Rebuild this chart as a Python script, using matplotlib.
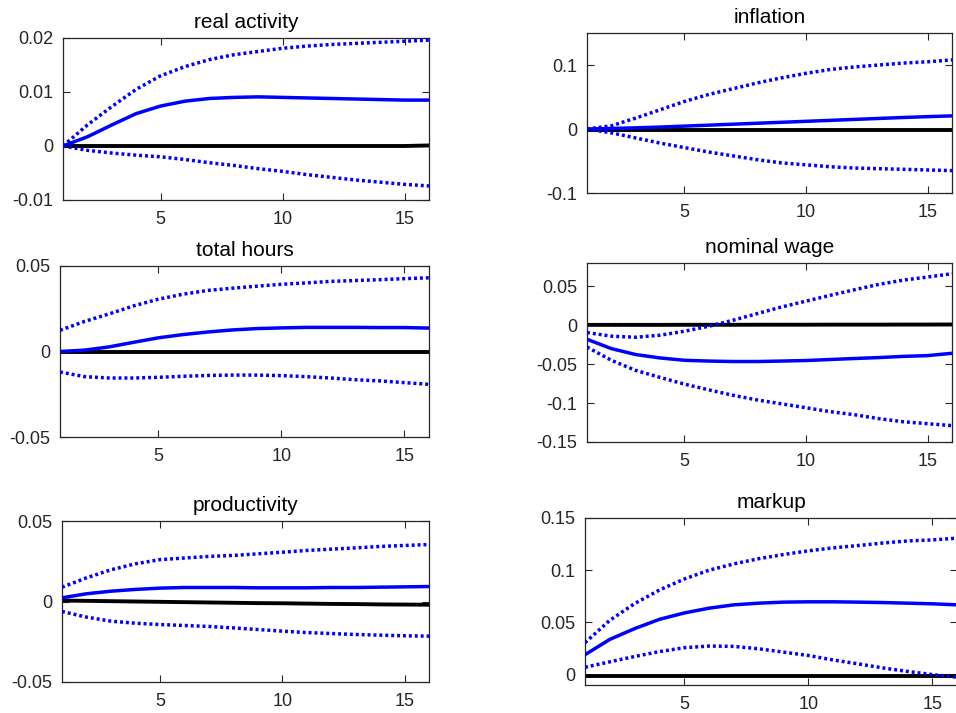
import numpy as np
import matplotlib
matplotlib.use("Agg")
import matplotlib.pyplot as plt

plt.rcParams['font.family'] = ['Liberation Sans', 'DejaVu Sans']

horizon = list(range(1, 17))

titles = ["real activity", "inflation", "total hours", "nominal wage", "productivity", "markup"]

# real activity
ra_mid = [0, 0.0017, 0.0039, 0.006, 0.0074, 0.0083, 0.0088, 0.009, 0.0091, 0.009, 0.0089, 0.0088, 0.0087, 0.0086, 0.0085, 0.0085]
ra_up = [0, 0.0039, 0.0073, 0.0105, 0.013, 0.0147, 0.016, 0.0169, 0.0175, 0.0181, 0.0185, 0.0188, 0.019, 0.0192, 0.0194, 0.0196]
ra_lo = [0, -0.0008, -0.0013, -0.0017, -0.002, -0.0025, -0.0031, -0.0036, -0.0042, -0.0047, -0.0053, -0.0058, -0.0063, -0.0067, -0.0071, -0.0074]
ra_ref = [0, 0, 0, 0, 0, 0, 0, 0, 0, 0, 0, 0, 0, 0, 0, 0.0001]

# inflation
inf_mid = [0, 0.0008, 0.0018, 0.003, 0.0045, 0.006, 0.0075, 0.009, 0.0105, 0.012, 0.0135, 0.015, 0.0165, 0.018, 0.0193, 0.0205]
inf_up = [0, 0.005, 0.017, 0.03, 0.043, 0.054, 0.063, 0.072, 0.08, 0.087, 0.093, 0.097, 0.1, 0.103, 0.105, 0.108]
inf_lo = [0, -0.006, -0.014, -0.022, -0.029, -0.036, -0.042, -0.048, -0.053, -0.056, -0.059, -0.061, -0.062, -0.063, -0.064, -0.065]
inf_ref = [-0.001] * 16

# total hours
th_mid = [0, 0.0008, 0.0027, 0.0054, 0.008, 0.0099, 0.0114, 0.0126, 0.0134, 0.0138, 0.0141, 0.0141, 0.0141, 0.014, 0.014, 0.0137]
th_up = [0.0124, 0.0176, 0.022, 0.0267, 0.0306, 0.0335, 0.0357, 0.037, 0.0382, 0.0393, 0.0401, 0.041, 0.0415, 0.042, 0.0426, 0.0431]
th_lo = [-0.012, -0.0147, -0.0155, -0.0155, -0.0151, -0.0145, -0.014, -0.0138, -0.0138, -0.0141, -0.0147, -0.0155, -0.0165, -0.0172, -0.0182, -0.0192]
th_ref = [0] * 16

# nominal wage
nw_mid = [-0.018, -0.030, -0.0376, -0.042, -0.045, -0.046, -0.0466, -0.0466, -0.046, -0.0453, -0.044, -0.0427, -0.0415, -0.040, -0.039, -0.036]
nw_up = [-0.0094, -0.014, -0.0154, -0.0128, -0.0077, -0.0013, 0.0064, 0.015, 0.0235, 0.031, 0.0385, 0.0457, 0.0526, 0.058, 0.062, 0.0662]
nw_lo = [-0.028, -0.045, -0.058, -0.067, -0.0756, -0.083, -0.090, -0.096, -0.101, -0.106, -0.111, -0.115, -0.120, -0.124, -0.1265, -0.129]
nw_ref = [0.0005, 0.0005, 0.0005, 0.0005, 0.0006, 0.0006, 0.0006, 0.0007, 0.0007, 0.0007, 0.0008, 0.0008, 0.0008, 0.0009, 0.0009, 0.001]

# productivity
pr_mid = [0.0023, 0.0048, 0.0064, 0.0075, 0.0083, 0.0087, 0.0087, 0.0087, 0.0085, 0.0085, 0.0085, 0.0087, 0.0087, 0.0089, 0.0091, 0.0093]
pr_up = [0.0089, 0.0147, 0.0197, 0.0234, 0.026, 0.027, 0.028, 0.0286, 0.0296, 0.0306, 0.0317, 0.0325, 0.0333, 0.0342, 0.0348, 0.0354]
pr_lo = [-0.0062, -0.0097, -0.0122, -0.0135, -0.0143, -0.0149, -0.0155, -0.0164, -0.0174, -0.0184, -0.0193, -0.0199, -0.0205, -0.0209, -0.0213, -0.0215]
pr_ref = [0.0006, 0.0004, 0.0002, 0.0, -0.0002, -0.0004, -0.0006, -0.0008, -0.001, -0.0011, -0.0013, -0.0015, -0.0016, -0.0018, -0.0019, -0.002]

# markup
mk_mid = [0.019, 0.0337, 0.044, 0.0529, 0.059, 0.0636, 0.0668, 0.0684, 0.0694, 0.0697, 0.0697, 0.0694, 0.069, 0.0684, 0.0678, 0.0668]
mk_up = [0.0305, 0.052, 0.068, 0.081, 0.0915, 0.1, 0.106, 0.111, 0.115, 0.1185, 0.1214, 0.1236, 0.126, 0.128, 0.129, 0.1307]
mk_lo = [0.007, 0.0122, 0.0173, 0.022, 0.0257, 0.0273, 0.027, 0.0247, 0.0215, 0.0183, 0.014, 0.0103, 0.0064, 0.003, 0.0, -0.0026]
mk_ref = [-0.001] * 16

mids = [ra_mid, inf_mid, th_mid, nw_mid, pr_mid, mk_mid]
ups = [ra_up, inf_up, th_up, nw_up, pr_up, mk_up]
los = [ra_lo, inf_lo, th_lo, nw_lo, pr_lo, mk_lo]
refs = [ra_ref, inf_ref, th_ref, nw_ref, pr_ref, mk_ref]

ylims = [(-0.01, 0.02), (-0.1, 0.15), (-0.05, 0.05), (-0.15, 0.08), (-0.05, 0.05), (-0.01, 0.15)]
yticks = [[-0.01, 0, 0.01, 0.02], [-0.1, 0, 0.1], [-0.05, 0, 0.05],
          [-0.15, -0.1, -0.05, 0, 0.05], [-0.05, 0, 0.05], [0, 0.05, 0.1, 0.15]]
yticklabels = [["-0.01", "0", "0.01", "0.02"], ["-0.1", "0", "0.1"], ["-0.05", "0", "0.05"],
               ["-0.15", "-0.1", "-0.05", "0", "0.05"], ["-0.05", "0", "0.05"], ["0", "0.05", "0.1", "0.15"]]
xticks = [5, 10, 15]

W, H = 956, 713
# (left, right, top, bottom) in pixels
boxes = [(63, 429, 38, 200), (587, 952, 33, 193),
         (60, 429, 266, 437), (587, 952, 263, 442),
         (62, 429, 521, 682), (585, 957, 518, 685)]

fig = plt.figure(figsize=(W / 100, H / 100), dpi=100)
blue = (0, 0, 1)
edge = (0.15, 0.15, 0.15)
lw = 2.5

for i in range(6):
    l, r, t, b = boxes[i]
    ax = fig.add_axes([l / W, (H - b) / H, (r - l) / W, (b - t) / H])
    ax.plot(horizon, refs[i], color='black', lw=lw + 0.3, solid_capstyle='butt', zorder=2)
    ax.plot(horizon, mids[i], color=blue, lw=lw, solid_capstyle='butt', solid_joinstyle='round', zorder=3)
    ax.plot(horizon, ups[i], color=blue, lw=lw, linestyle=(0, (0.85, 0.85)), dash_capstyle='butt', zorder=3)
    ax.plot(horizon, los[i], color=blue, lw=lw, linestyle=(0, (0.85, 0.85)), dash_capstyle='butt', zorder=3)
    ax.set_xlim(1, 16)
    ax.set_ylim(*ylims[i])
    ax.set_xticks(xticks)
    ax.set_xticklabels([str(v) for v in xticks])
    ax.set_yticks(yticks[i])
    ax.set_yticklabels(yticklabels[i])
    ax.tick_params(direction='in', top=True, right=True, length=5, width=0.8,
                   colors=edge, labelcolor=edge, labelsize=13)
    ax.tick_params(axis='x', pad=8)
    ax.tick_params(axis='y', pad=7)
    for s in ax.spines.values():
        s.set_color(edge)
        s.set_linewidth(0.9)
    ax.set_title(titles[i], fontsize=15, color='black', pad=7.5)

fig.savefig("out.png", dpi=100)
